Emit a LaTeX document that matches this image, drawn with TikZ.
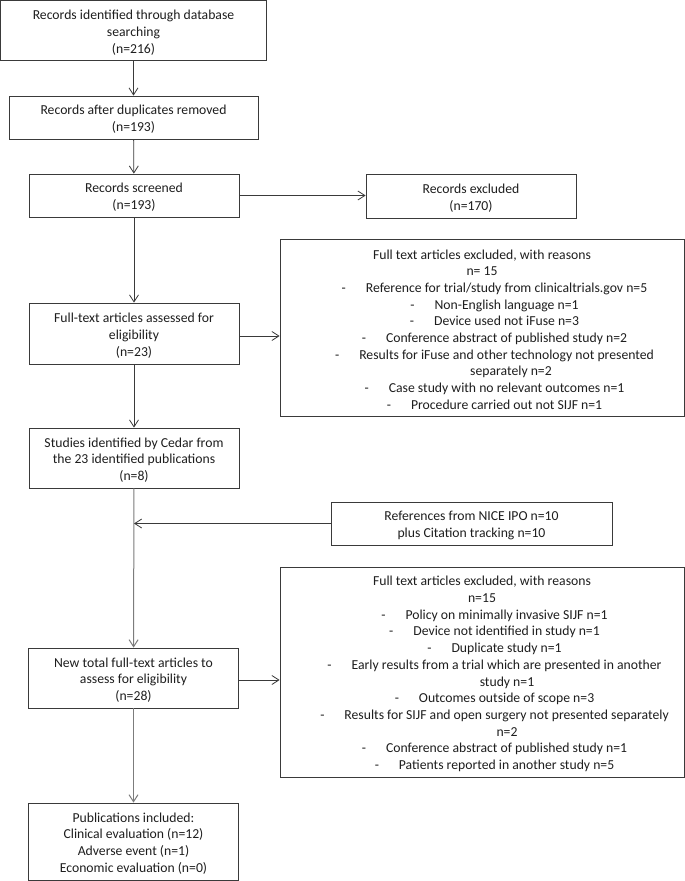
\documentclass[tikz,border=0pt]{standalone}
\usepackage{fontspec}
\setmainfont{Carlito}
\usetikzlibrary{arrows.meta}
\definecolor{linec}{HTML}{3A3A3A}
\definecolor{linegray}{HTML}{7C7C7C}
\definecolor{txt}{HTML}{1E1E1E}
\newcommand\bl[2][25pt]{\hspace*{#1}-\hspace{20pt}#2}
% \bx{name}{position}{width}{height}{text}
\newcommand\bx[5]{%
  \node[box, minimum width=#3, minimum height=#4] (#1) at #2 {};
  \node[tx] (#1t) at ([yshift=-2pt]#1.center) {#5};}
\begin{document}
\begin{tikzpicture}[x=1pt,y=-1pt,
  box/.style={draw=linec, line width=0.8pt, inner sep=0pt},
  tx/.style={inner sep=0pt, align=center,
    font=\fontsize{13.7}{16.7}\selectfont, text=txt},
  conn/.style={draw=linec, line width=0.8pt, -{Straight Barb[length=7pt,width=9pt]}},
  conng/.style={conn, draw=linegray, line width=1pt}]
\useasboundingbox[fill=white] (0,0) rectangle (685,881);
% main column
\bx{b1}{(133.5,30.5)}{266pt}{60pt}{Records identified through database\\searching\\(n=216)}
\bx{b2}{(133.5,117.5)}{249pt}{43pt}{Records after duplicates removed\\(n=193)}
\bx{b3}{(134,195.5)}{210pt}{43pt}{Records screened\\(n=193)}
\bx{b4}{(134,333.5)}{210pt}{61pt}{Full-text articles assessed for\\eligibility\\(n=23)}
\bx{b5}{(134,458)}{210pt}{60pt}{Studies identified by Cedar from\\the 23 identified publications\\(n=8)}
\bx{b6}{(133.5,678)}{210pt}{60pt}{New total full-text articles to\\assess for eligibility\\(n=28)}
\bx{b7}{(133.5,841.5)}{210pt}{77pt}{Publications included:\\Clinical evaluation (n=12)\\Adverse event (n=1)\\Economic evaluation (n=0)}
% side boxes
\bx{ex1}{(471,196)}{210pt}{44pt}{Records excluded\\(n=170)}
\bx{ex2}{(482,327.5)}{404pt}{177pt}{Full text articles excluded, with reasons\\
   n= 15\\
   \bl{Reference for trial/study from clinicaltrials.gov n=5}\\
   \bl{Non-English language n=1}\\
   \bl{Device used not iFuse n=3}\\
   \bl{Conference abstract of published study n=2}\\
   \bl{Results for iFuse and other technology not presented}\\
   \hspace*{58pt}separately n=2\\
   \bl{Case study with no relevant outcomes n=1}\\
   \bl{Procedure carried out not SIJF n=1}}
\bx{nice}{(471.5,523.5)}{281pt}{43pt}{References from NICE IPO n=10\\plus Citation tracking n=10}
\bx{ex3}{(482,672)}{404pt}{210pt}{Full text articles excluded, with reasons\\
   n=15\\
   \bl{Policy on minimally invasive SIJF n=1}\\
   \bl{Device not identified in study n=1}\\
   \bl{Duplicate study n=1}\\
   \bl{Early results from a trial which are presented in another}\\
   \hspace*{50pt}study n=1\\
   \bl{Outcomes outside of scope n=3}\\
   \bl{Results for SIJF and open surgery not presented separately}\\
   \hspace*{50pt}n=2\\
   \bl{Conference abstract of published study n=1}\\
   \bl{Patients reported in another study n=5}}
% connectors
\draw[conn] (b1) -- (b2);
\draw[conn] (b2) -- (b3);
\draw[conn] (b3) -- (b4);
\draw[conn] (b4) -- (b5);
\draw[conng] (b5) -- (b6);
\draw[conng] (b6) -- (b7);
\draw[conn] (b3.east) -- (b3.east -| ex1.west);
\draw[conn] (b4.east |- 0,336) -- (ex2.west |- 0,336);
\draw[conn] (b6.east |- 0,680) -- (ex3.west |- 0,680);
\coordinate (j) at (b5.south |- nice.west);
\draw[conn] (nice.west) -- (j);
\end{tikzpicture}
\end{document}
